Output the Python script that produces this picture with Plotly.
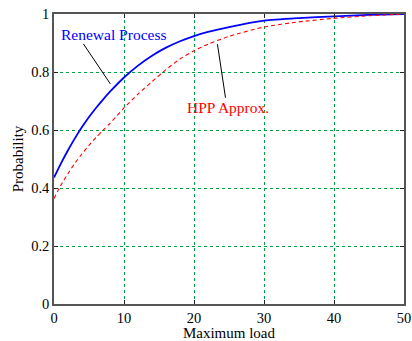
import plotly.graph_objects as go

# Maximum load values at which the probabilities are evaluated
load = [0, 1, 2, 3, 4, 5, 6, 7, 8, 10, 12, 14, 16, 18, 20, 22, 25, 30, 35, 40, 45, 50]

# Probability curves
renewal = [0.436, 0.485, 0.530, 0.572, 0.610, 0.645, 0.676, 0.705, 0.732, 0.781, 0.822,
           0.856, 0.884, 0.906, 0.924, 0.938, 0.955, 0.977, 0.986, 0.992, 0.997, 1.000]
hpp = [0.364, 0.410, 0.450, 0.486, 0.518, 0.547, 0.574, 0.599, 0.623, 0.676, 0.724,
       0.767, 0.808, 0.845, 0.873, 0.896, 0.923, 0.955, 0.973, 0.985, 0.994, 1.000]

x_ticks = [0, 10, 20, 30, 40, 50]
y_ticks = [0, 0.2, 0.4, 0.6, 0.8, 1]
y_tick_text = ["0", "0.2", "0.4", "0.6", "0.8", "1"]

FONT = "Liberation Serif, Times New Roman, serif"
GRID = "rgb(0,160,64)"
AXIS = "#555555"

fig = go.Figure()
fig.add_trace(go.Scatter(x=load, y=renewal, mode="lines", name="Renewal Process",
                         line=dict(color="#0000ff", width=1.8, shape="spline", smoothing=0.6)))
fig.add_trace(go.Scatter(x=load, y=hpp, mode="lines", name="HPP Approx.",
                         line=dict(color="#ff0000", width=1.1, dash="4px,3px",
                                   shape="spline", smoothing=0.6)))

# Label leader lines (data coordinates)
leaders = [
    dict(x0=4.2, y0=0.897, x1=8.05, y1=0.759),
    dict(x0=23.35, y0=0.896, x1=24.5, y1=0.711),
]
for ld in leaders:
    fig.add_shape(type="line", xref="x", yref="y", line=dict(color="black", width=1), **ld)

fig.add_annotation(x=8.55, y=0.931, text="Renewal Process", showarrow=False,
                   font=dict(family=FONT, size=15.5, color="#0000ff"))
fig.add_annotation(x=24.8, y=0.679, text="HPP Approx.", showarrow=False,
                   font=dict(family=FONT, size=15.5, color="#ff0000"))

axis_common = dict(
    showline=True, linecolor=AXIS, linewidth=1.5, mirror="ticks",
    ticks="inside", ticklen=4, tickcolor="#222222", tickwidth=1,
    showgrid=True, gridcolor=GRID, griddash="dot", gridwidth=1,
    zeroline=False, automargin=False, ticklabeloverflow="allow",
    tickfont=dict(family=FONT, size=14.5, color="black"),
)

fig.update_xaxes(range=[0, 50], tickvals=x_ticks,
                 title=dict(text="Maximum load", font=dict(family=FONT, size=15, color="black"),
                            standoff=8),
                 **axis_common)
fig.update_yaxes(range=[0, 1], tickvals=y_ticks, ticktext=y_tick_text,
                 title=dict(text="Probability", font=dict(family=FONT, size=15, color="black"),
                            standoff=4),
                 **axis_common)

fig.update_layout(
    width=412, height=341,
    margin=dict(l=54, r=8, t=14, b=37),
    paper_bgcolor="white", plot_bgcolor="white",
    showlegend=False,
    font=dict(family=FONT),
)

fig.write_html("out.html", config={"displayModeBar": False})
